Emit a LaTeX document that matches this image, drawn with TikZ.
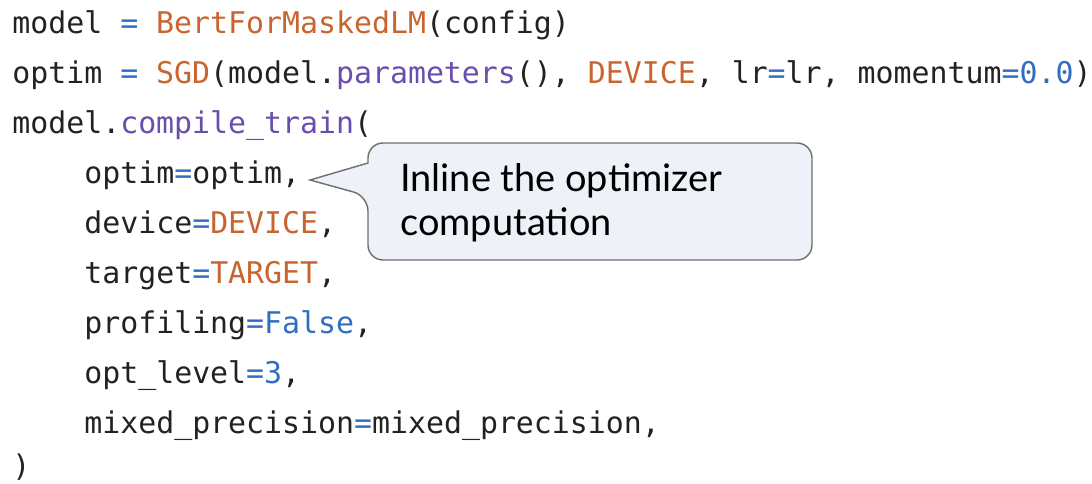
\documentclass[tikz,border=0pt]{standalone}
\usepackage{fontspec}
\setmonofont{DejaVu Sans Mono}
\newfontfamily\notefont{Lato}
\usetikzlibrary{positioning}
\definecolor{kworange}{HTML}{C8652F}
\definecolor{opblue}{HTML}{2F6FC0}
\definecolor{fnpurple}{HTML}{6A4EAE}
\definecolor{codeblack}{HTML}{222222}
\definecolor{notefill}{HTML}{EEF2F8}
\definecolor{noteline}{HTML}{6E6E6E}
\newcommand{\us}{{\char"5F}}

\begin{document}
\begin{tikzpicture}[
 code/.style={anchor=base west,inner sep=0pt,text=codeblack,font=\ttfamily\fontsize{17pt}{17pt}\selectfont},
 note/.style={anchor=base west,inner sep=0pt,text=black,font=\notefont\fontsize{21.6pt}{21.6pt}\selectfont}]
\useasboundingbox (0,0) rectangle (21.84,-9.66);
% code lines
\node[code] (l1) at (0.24,-0.66) {model \textcolor{opblue}{=} \textcolor{kworange}{BertForMaskedLM}(config)};
\node[code] (l2) at (0.24,-1.66) {optim \textcolor{opblue}{=} \textcolor{kworange}{SGD}(model.\textcolor{fnpurple}{parameters}(), \textcolor{kworange}{DEVICE}, lr\textcolor{opblue}{=}lr, momentum\textcolor{opblue}{=0.0})};
\node[code] (l3) at (0.24,-2.66) {model.\textcolor{fnpurple}{compile\us train}(};
\node[code] (l4) at (1.68,-3.66) {optim\textcolor{opblue}{=}optim,};
\node[code] (l5) at (1.68,-4.66) {device\textcolor{opblue}{=}\textcolor{kworange}{DEVICE},};
\node[code] (l6) at (1.68,-5.66) {target\textcolor{opblue}{=}\textcolor{kworange}{TARGET},};
\node[code] (l7) at (1.68,-6.66) {profiling\textcolor{opblue}{=False},};
\node[code] (l8) at (1.68,-7.66) {opt\us level\textcolor{opblue}{=3},};
\node[code] (l9) at (1.68,-8.66) {mixed\us precision\textcolor{opblue}{=}mixed\us precision,};
\node[code] (l10) at (0.24,-9.52) {)};
% callout
\coordinate (tip) at (6.2,-3.6);
\draw[noteline,fill=notefill,line width=0.8pt,rounded corners=0.3cm]
 (7.36,-3.26) -- (7.36,-2.86) -- (16.24,-2.86) -- (16.24,-5.2) -- (7.36,-5.2) -- (7.36,-3.92)
 [sharp corners] -- (tip) -- cycle;
\node[note] (n1) at (8.0,-3.82) {Inline the optimizer};
\node[note] (n2) at (8.0,-4.7) {computation};
\end{tikzpicture}
\end{document}
